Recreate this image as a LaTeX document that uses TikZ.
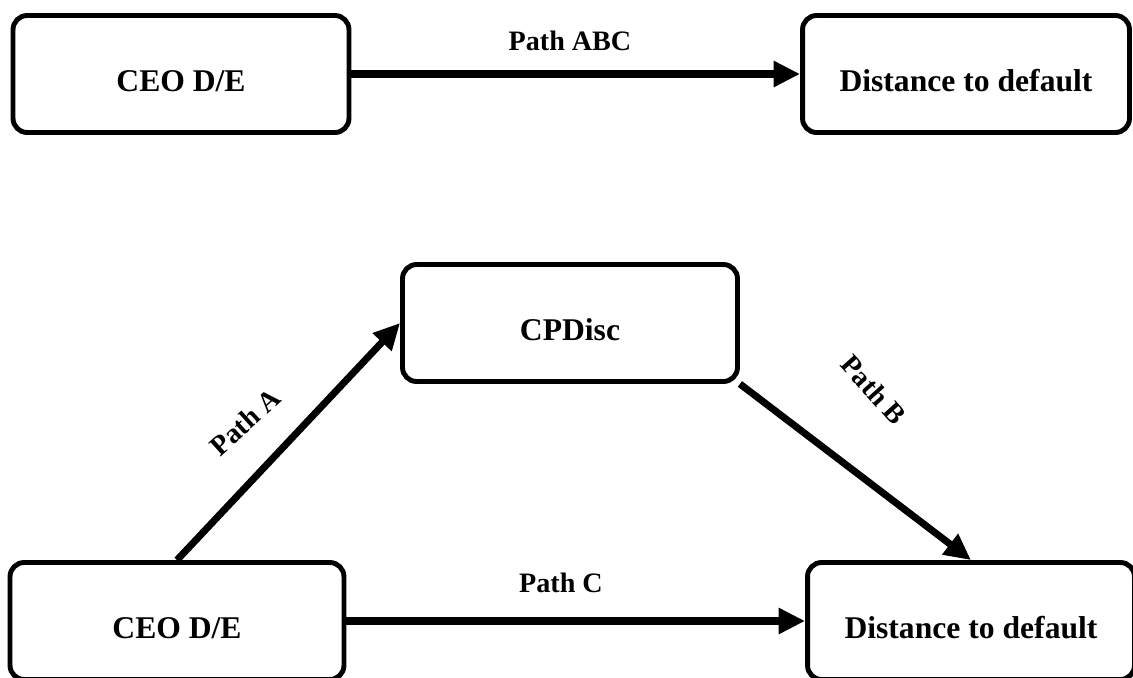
\documentclass[tikz,border=0pt]{standalone}
\usepackage{fontspec}
\setmainfont{Liberation Serif}
\usetikzlibrary{arrows.meta}
\tikzset{
  box/.style={draw, line width=2.8pt, rounded corners=8pt, fill=white,
    minimum width=6.7cm, minimum height=2.34cm,
    text height=20pt, text depth=0pt,
    font=\fontsize{18}{22}\selectfont\bfseries},
  link/.style={line width=4pt, -{Triangle[length=15pt,width=14pt]}},
  pathlbl/.style={font=\fontsize{16}{19}\selectfont\bfseries}
}
\begin{document}
\begin{tikzpicture}[x=0.02cm, y=-0.02cm]
        \useasboundingbox (0,0) rectangle (1133,677);

        % Total effect
        \node[box, minimum width=6.72cm] (ceoTop) at (181,74) {CEO D/E};
        \node[box, minimum width=6.54cm] (dtdTop) at (966,74) {Distance to default};
        \draw[link] (ceoTop.east) -- (dtdTop.west);
        \node[pathlbl] (lblABC) at (570,41) {Path ABC};

        % Mediated model
        \node[box] (cpdisc) at (570,323) {CPDisc};
        \node[box, minimum width=6.68cm] (ceoBot) at (177,621) {CEO D/E};
        \node[box, minimum width=6.54cm] (dtdBot) at (971,621) {Distance to default};

        \draw[link] (ceoBot.north) -- (cpdisc.west);
        \draw[link] (cpdisc.south east) -- (dtdBot.north);
        \draw[link] (ceoBot.east) -- (dtdBot.west);

        % Path labels
        \node[pathlbl, rotate=42] (lblA) at (245,422) {Path A};
        \node[pathlbl, rotate=-48] (lblB) at (874,390) {Path B};
        \node[pathlbl] (lblC) at (561,583) {Path C};
\end{tikzpicture}
\end{document}
